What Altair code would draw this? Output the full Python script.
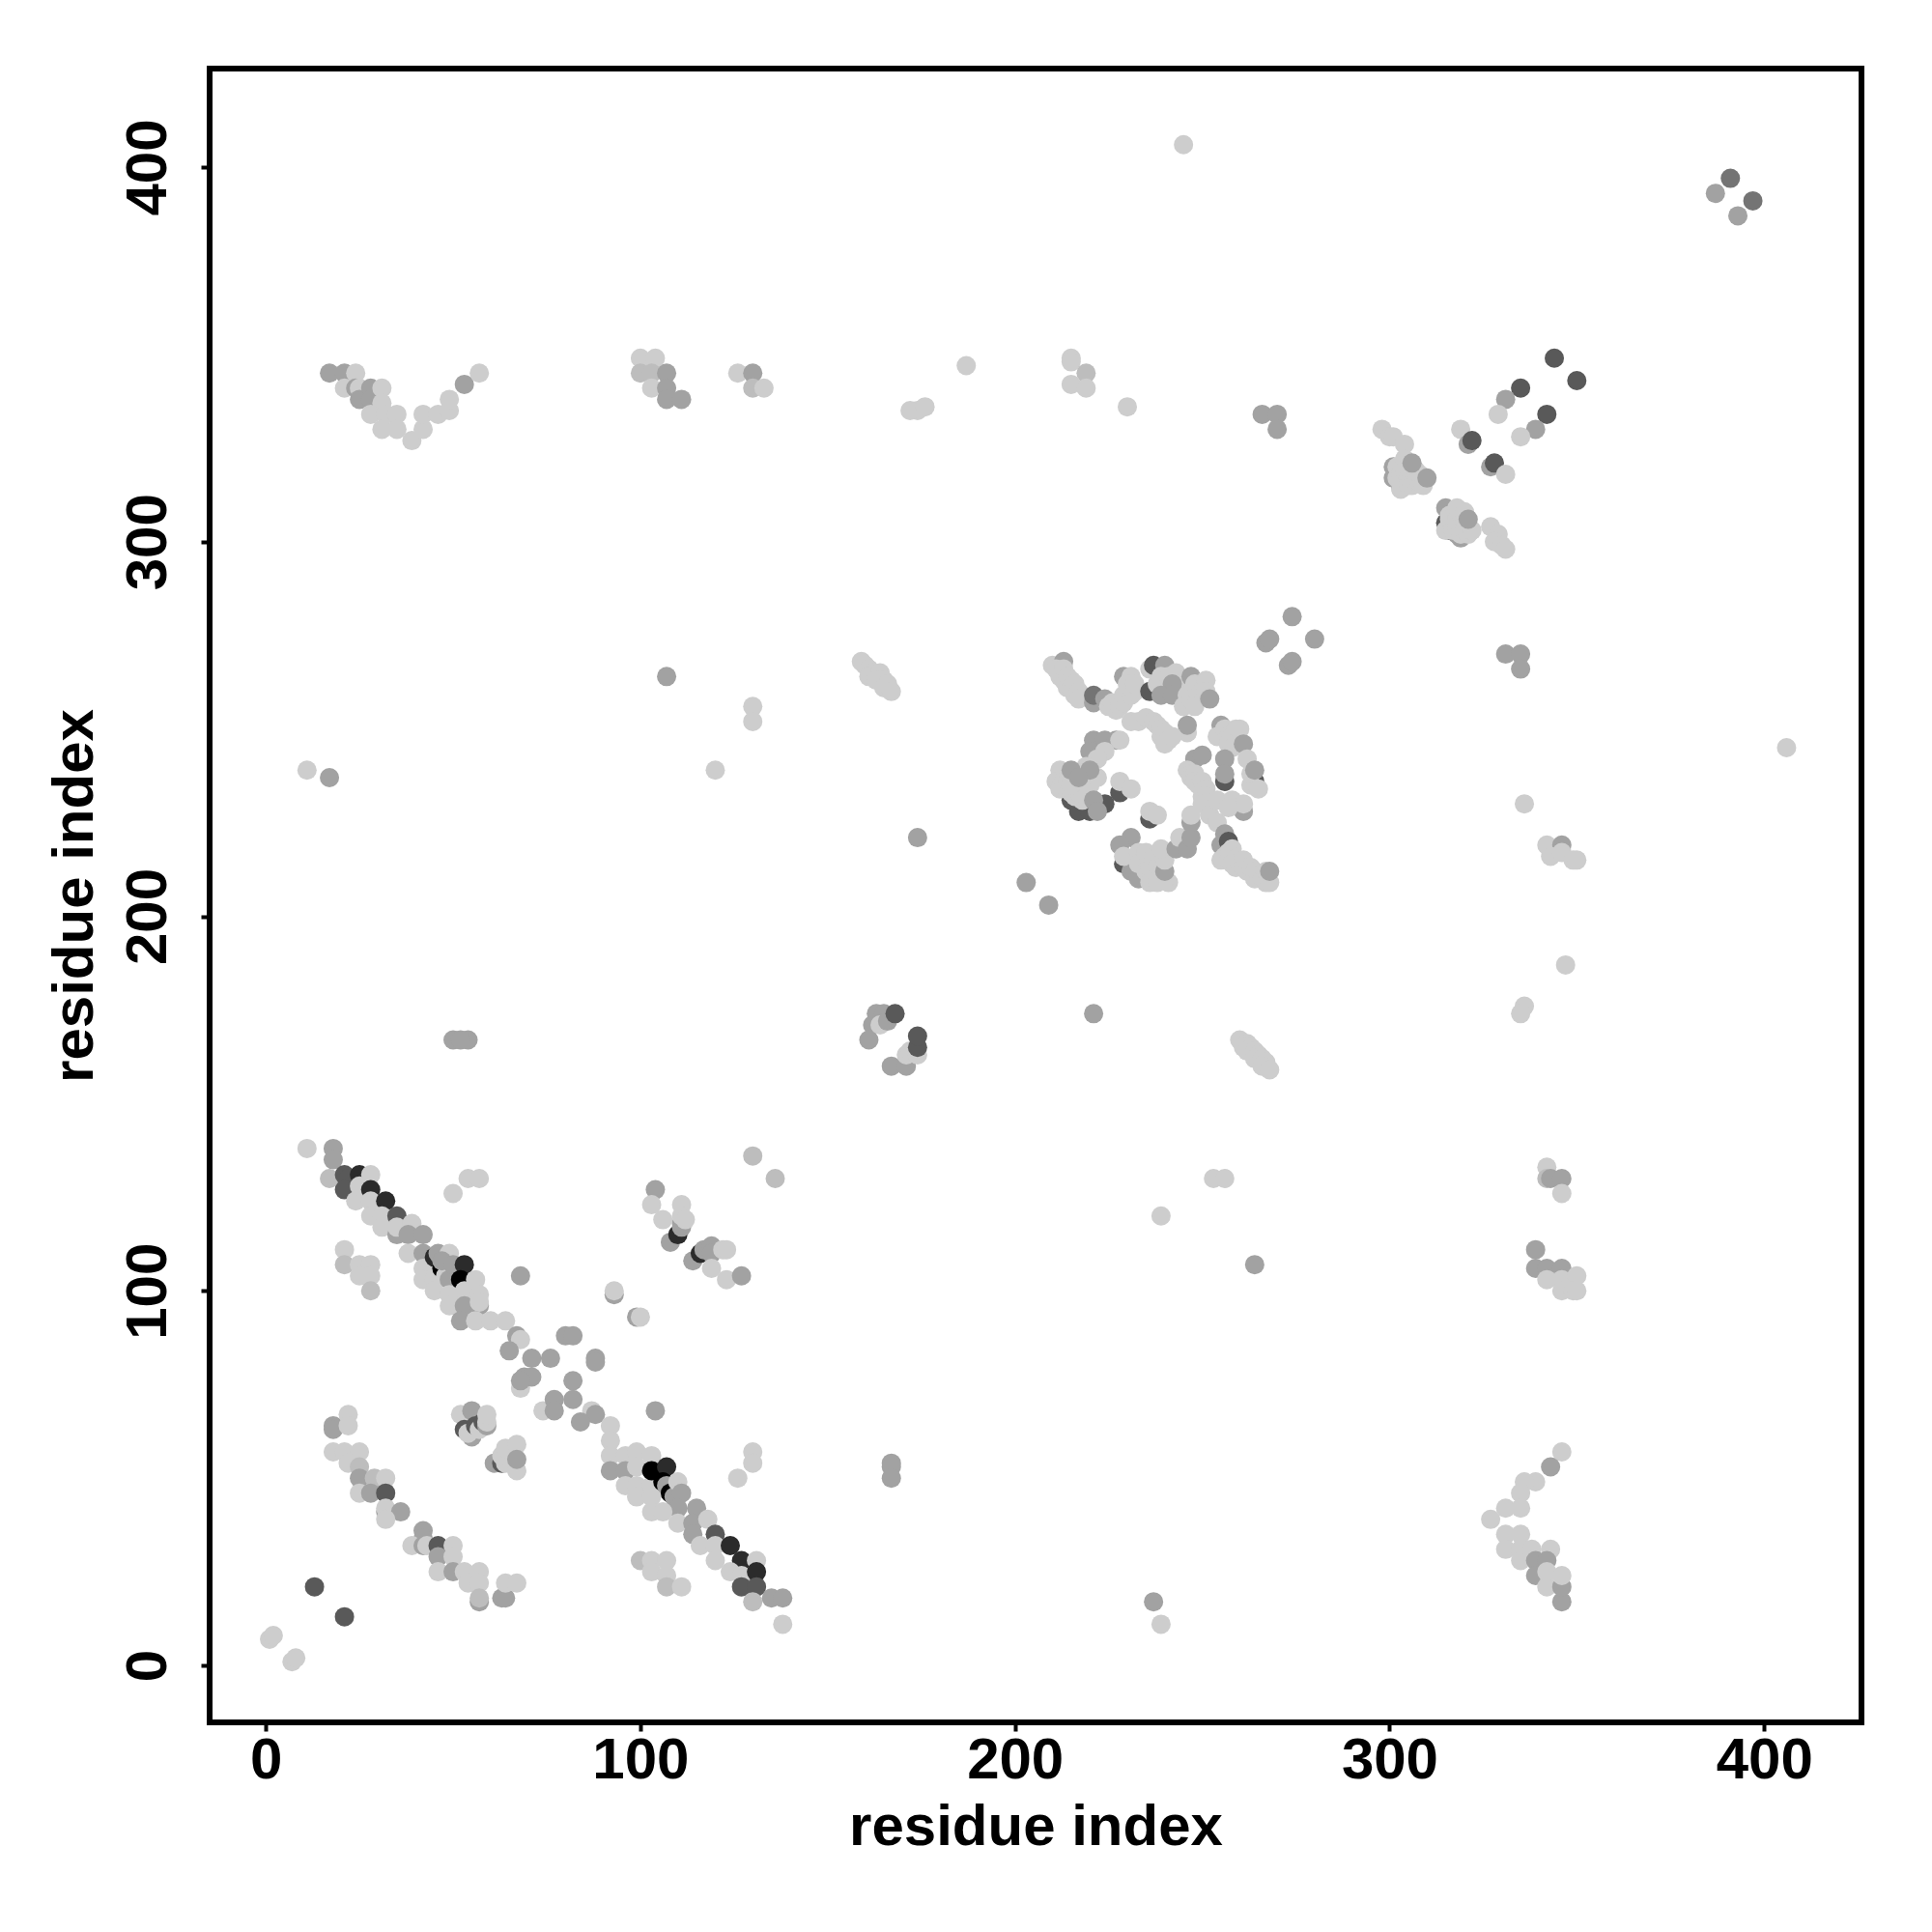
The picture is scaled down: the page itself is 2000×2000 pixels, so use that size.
import altair as alt
import pandas as pd

# Each contact: (residue x, residue y, score level) ; level 1 = lightest ... 6 = black, 7 = medium dark
bl_diag_a = [(11,138,1),(18,138,3),(18,135,3),(17,130,2),(21,131,4),(22,130,4),(25,131,5),(28,131,1),(21,127,4),(24,124,1),(25,128,1),
 (28,127,5),(28,124,1),(28,120,1),(32,124,5),(31,120,1),(31,117,1),(35,120,4),(35,115,3),(35,117,1),(39,118,1),(38,115,3),(42,115,3),(38,110,1),
 (42,110,3),(42,106,1),(42,103,1),(45,109,5),(46,110,3),(49,110,1),(45,103,1),(45,100,1),(47,106,6),(48,104,1),(47,108,3),(49,103,3),(50,107,3),
 (49,99,1),(53,107,5),(52,103,6),(56,103,1),(53,100,1),(57,99,1),(49,96,1),(53,96,3),(57,96,3),(57,97,1),(52,92,3),(56,92,1),
 (60,92,1),(64,92,1),(67,88,3),(68,87,1),(65,84,3),(71,82,3),(76,82,3),(80,88,3),(82,88,3),(88,82,3),(88,81,3),(82,76,3),
 (82,71,3),(68,74,1),(69,77,3),(71,77,3),(68,76,3),(74,68,1),(77,71,3),(77,68,3),(87,68,1),(88,67,3),(84,65,3),(104,68,3),(92,64,1),(92,60,1)]
bl_patch = [(68,104,3),(21,111,1),(21,107,2),(25,107,1),(28,107,1),(25,104,1),(28,104,1),(28,100,2),(54,130,1),(57,130,1),(50,126,1)]
bl_cross = [(93,99,3),(93,100,1),(99,93,3),(100,93,1)]
bl_side = [(104,127,3),(103,123,1),(106,119,1),(108,113,3),(110,115,5),(111,117,3),(111,118,3),(111,123,1),(111,120,1),(112,119,1),
 (114,108,3),(116,110,5),(117,111,3),(119,112,3),(119,110,3),(122,111,1),(123,111,1),(119,106,1),(123,103,1),(127,104,3),(130,136,2),(136,130,2)]
bl_low_a = [(18,64,3),(18,63,3),(22,67,1),(22,64,1),(18,57,1),(21,57,1),(25,57,1),(22,54,1),(25,53,2),(25,50,3),(29,50,2),(32,50,1),
 (25,46,1),(28,46,3),(32,46,4),(32,41,3),(32,42,1),(36,41,3),(32,39,1),(42,36,3),(42,34,3),(39,32,1),(42,32,3),(43,32,1),(46,32,4),(50,32,1),
 (46,29,3),(50,29,1),(46,25,1),(50,25,3),(53,25,1),(57,25,1),(54,22,1),(57,22,1),(57,17,3),(57,18,2),(63,18,3),(64,18,3),(64,22,1),(67,22,1)]
bl_corner = [(13,21,4),(21,13,4),(1,7,1),(2,8,1),(7,1,1),(8,2,1)]
bl_mid = [(52,67,1),(55,61,3),(55,68,3),(53,63,4),(54,62,1),(56,64,4),(57,63,1),(58,65,4),(59,64,3),(59,65,1),(59,67,1),
 (61,54,3),(63,54,4),(64,54,1),(63,56,1),(64,58,1),(67,59,1),(67,52,1),(67,55,3)]
bl_diag_b = [(92,56,1),(92,52,3),(96,56,1),(96,52,3),(96,48,1),(99,57,1),(99,53,1),(99,48,1),(99,45,1),(103,48,1),(103,45,1),(103,41,1),
 (103,56,1),(103,52,6),(107,53,5),(106,49,6),(107,48,3),(108,46,6),(109,45,3),(110,49,1),(111,46,3),(110,42,3),(106,41,1),(110,38,1),(115,42,3),(114,38,3),
 (118,39,1),(114,35,3),(120,35,4),(116,32,1),(120,32,1),(124,32,5),(120,28,1),(127,28,5),(131,28,1),(124,25,1),(127,24,1),(127,21,4),(131,25,5),(131,21,4),
 (130,17,2),(135,18,3),(138,18,3),(138,11,1),(130,57,1),(130,54,1),(126,50,1),(100,28,2),(103,28,1),(107,28,1),(103,25,1),(107,24,1),(107,21,2),(111,21,1)]
top_row_a = [(17,345,3),(21,345,3),(24,345,1),(21,341,1),(24,341,3),(25,341,1),(25,338,3),(28,341,3),(28,338,3),(31,341,1),(31,337,1),
 (28,334,1),(32,334,1),(35,334,1),(31,330,1),(35,330,1),(39,327,1),(42,330,1),(42,334,1),(46,334,1),(49,335,1),(49,338,1),(53,342,3),(57,345,1)]
top_row_b = [(100,349,1),(104,349,1),(100,345,2),(103,345,2),(103,341,1),(107,345,3),(107,341,3),(107,338,3),(111,338,3),
 (126,345,1),(130,345,3),(130,341,2),(133,341,1),(174,335,1),(172,335,1),(176,336,1),(187,347,1),(245,406,1)]
top_row_c = [(215,349,1),(215,348,1),(219,345,2),(215,342,1),(219,341,1),(230,336,1),(266,334,3),(270,334,3),(270,330,3)]
upper_right = [(344,349,4),(350,343,4),(335,341,4),(331,338,3),(329,334,1),(342,334,4),(339,330,3),(335,328,1),(319,330,1),(321,326,3),(322,327,4),
 (327,320,3),(328,321,4),(331,318,1),(298,330,1),(300,328,1),(301,328,1),(304,326,1)]
blob_one = [(301,320,3),(303,315,4),(301,317,3),(302,320,1),(302,317,1),(303,318,1),(304,322,1),(304,319,1),(305,317,1),(306,318,1),(303,314,1),(305,315,1),(306,315,1),
 (307,316,1),(307,319,1),(308,316,1),(308,318,1),(309,315,1),(306,321,3),(310,317,3)]
blob_two = [(315,305,4),(316,303,4),(318,302,3),(319,301,3),(315,309,3),(315,303,1),(316,307,1),(316,306,1),(317,305,1),(317,303,1),(318,309,1),(318,306,1),(318,304,1),
 (319,304,1),(319,302,1),(320,305,1),(320,303,1),(320,308,1),(321,302,1),(322,303,1),(321,306,3),
 (327,304,1),(329,302,1),(328,300,1),(330,299,1),(331,298,1)]
right_col_a = [(342,133,1),(342,130,2),(343,130,3),(346,130,3),(346,126,1),(339,111,3),(339,106,3),(342,106,3),(346,106,3),(342,103,1),(346,103,1),(350,104,1),(346,100,1),(349,100,1),(350,100,1)]
right_col_b = [(346,57,1),(343,53,3),(339,49,1),(336,49,1),(335,46,1),(331,42,1),(335,42,1),(327,39,1),(331,35,1),(335,35,1),(331,31,1),(335,31,1),(335,28,1),
 (338,31,1),(343,31,1),(339,28,3),(342,28,3),(339,24,3),(342,21,1),(342,25,1),(346,17,3),(346,21,3),(346,24,1)]
mid_blob = [(162,171,3),(161,167,3),(163,174,3),(165,174,3),(164,171,1),(166,172,3),(168,174,4),(167,160,3),(171,160,3),(171,163,1),(172,164,1),(174,163,1),(174,165,4),(174,168,4)]
scattered = [(107,264,3),(130,256,1),(130,252,1),(120,239,1),(11,239,1),(17,237,3),(50,167,3),(54,167,3),(52,167,3),
 (387,393,3),(391,397,7),(393,387,3),(397,391,7),(406,245,1),(336,230,1),(342,219,1),(346,219,3),(343,216,1),(346,217,1),(349,215,1),(350,215,1),
 (347,187,1),(336,176,1),(335,174,1),(203,209,3),(209,203,3),(221,174,3),(174,221,3),(331,270,3),(335,270,3),(335,266,3),
 (267,273,3),(268,274,3),(274,280,3),(280,274,3),(273,267,3),(274,268,3),
 (159,268,1),(160,267,1),(161,266,1),(162,265,1),(161,264,1),(163,264,1),(164,265,1),(165,263,1),(163,263,1),(166,262,1),(165,261,1),(167,260,1),
 (260,167,1),(262,166,1),(261,165,1),(263,165,1),(262,164,1),(264,164,1),(265,163,1),(264,162,1),(266,162,1),(267,161,1),(266,160,1),(268,159,1),
 (167,54,3),(167,53,3),(167,50,3),(237,17,3),(239,11,1),(239,120,1),(253,130,1),(256,130,1),(264,107,3)]
ring_top = [(210,267,1),(213,268,3),(211,266,1),(212,264,1),(213,266,1),(213,263,1),(214,264,1),(214,261,1),(215,263,1),(215,261,1),(216,262,1),(216,259,1),(217,260,1),(217,258,1),
 (221,257,3),(221,259,7),(224,258,3),(225,256,1),(226,257,1),(227,255,1),(228,256,1),(229,257,1),
 (229,264,3),(231,264,1),(229,259,1),(231,259,1),(231,261,1),(230,262,1),(232,260,1),(232,262,1),(236,260,4),(236,266,1),(237,267,4),(240,267,3),(238,262,1),(239,264,1),(241,264,1),(243,265,1),(244,262,1),(242,262,3),
 (239,259,3),(242,259,3),(245,256,1),(246,259,1),(247,258,1),(247,264,3),(248,262,1),(249,259,1),(250,260,1),(251,263,1),(251,260,1),(248,256,1),(252,258,3),(246,249,1),(246,251,3),
 (231,252,1),(233,252,1),(235,253,1),(237,252,1),(238,251,1),(239,250,1),(239,248,1),(240,249,1),(241,247,1),(240,246,1),(242,248,1)]
ring_left = [(215,231,4),(217,228,4),(220,228,4),(224,230,4),(221,247,3),(224,247,3),(227,247,3),(228,247,1),(220,244,3),(224,244,1),(222,242,1),(219,240,1),(212,239,1),(211,236,1),
 (213,237,1),(212,234,1),(213,236,1),(214,234,1),(214,236,1),(215,233,1),(216,232,1),(216,236,1),(218,231,1),(218,235,1),(220,235,1),(222,237,1),(217,233,1),(215,235,1),
 (220,239,3),(215,239,3),(217,237,3),(221,231,3),(222,228,3),(228,233,4),(228,236,1),(231,234,1),
 (236,226,4),(236,228,1),(238,227,1)]
ring_bottom = [(229,214,4),(231,212,3),(233,210,3),(231,221,3),(228,219,3),(229,216,1),(233,217,1),(233,214,1),(235,212,1),(236,213,1),(235,217,1),(237,216,1),(238,213,1),(238,211,1),(236,209,1),(238,209,1),(241,209,1),(240,210,1),
 (240,212,3),(240,215,1),(239,218,1),
 (243,218,3),(244,221,1),(246,218,3),(247,221,3),(247,225,3),(247,227,1)]
ring_right = [(248,242,3),(250,243,3),(246,239,1),(247,238,1),(247,237,1),(248,238,1),(248,236,1),(249,235,1),(250,236,1),(251,234,1),(250,232,1),(251,232,1),(250,230,1),(252,227,1),(254,225,1),
 (255,251,3),(254,248,1),(256,250,1),(257,248,1),(258,248,1),(260,250,1),(259,250,1),(257,246,1),(258,245,1),(261,246,3),(256,242,3),(256,236,4),(256,238,3),(262,242,1),(264,236,4),(263,235,1),(263,238,1),(265,234,1),(264,239,3),
 (254,231,1),(258,231,1),(261,228,3),(261,230,1),(257,229,1),(256,222,3),(255,219,3),(257,220,4),(258,218,1),(257,217,1),(256,216,1),(255,215,1),(257,215,1),(258,214,1),(259,213,1),(260,214,1),(261,215,1),(261,213,1),(262,212,1),(263,213,1),(264,212,1),(264,210,1),(265,211,1),(266,210,1),(267,209,1),(268,209,1),(267,212,1),(268,212,3)]

clusters = [bl_diag_a, bl_patch, bl_cross, bl_side, bl_low_a, bl_corner, bl_mid, bl_diag_b, top_row_a, top_row_b, top_row_c,
            upper_right, blob_one, blob_two, right_col_a, right_col_b, mid_blob, scattered,
            ring_top, ring_left, ring_bottom, ring_right]

rows = [{"x": p[0], "y": p[1], "level": p[2]} for c in clusters for p in c]
df = pd.DataFrame(rows)

levels = [1, 2, 3, 4, 5, 6, 7]
greys = ["#cdcdcd", "#bdbdbd", "#a2a2a2", "#595959", "#2b2b2b", "#000000", "#747474"]
ticks = [0, 100, 200, 300, 400]
x_domain = [-15, 426]
y_domain = [-15.2, 426.3]
FONT = "Liberation Sans"

def axis(**kw):
    return alt.Axis(values=ticks, title="residue index", grid=False, domain=False, tickColor="black", tickWidth=4, tickSize=9,
                    labelFont=FONT, labelFontSize=60, labelFontWeight="bold", labelColor="black",
                    titleFont=FONT, titleFontSize=60, titleFontWeight="bold", titleColor="black", labelFlush=False, labelOverlap=False, **kw)

chart = (
    alt.Chart(df)
    .mark_circle(size=400, opacity=1)
    .encode(
        x=alt.X("x:Q", scale=alt.Scale(domain=x_domain, nice=False, zero=False), axis=axis(labelPadding=1, titlePadding=10)),
        y=alt.Y("y:Q", scale=alt.Scale(domain=y_domain, nice=False, zero=False),
                axis=axis(labelAngle=270, labelAlign="center", labelBaseline="bottom", labelPadding=24, titlePadding=15)),
        color=alt.Color("level:O", scale=alt.Scale(domain=levels, range=greys), legend=None),
    )
    .properties(width=1710, height=1712, autosize="none", background="white",
                padding={"left": 209, "top": 63, "right": 50, "bottom": 190})
    .configure_view(stroke="black", strokeWidth=6)
)
chart.save("out.html", embed_options={"renderer": "svg", "actions": False})
